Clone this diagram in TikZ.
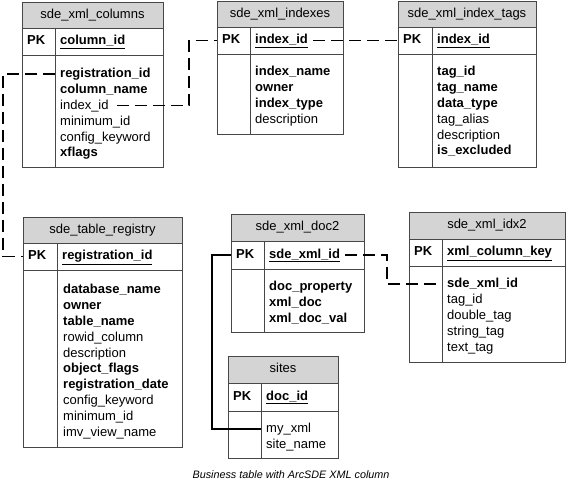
\documentclass[tikz,border=0pt]{standalone}
\usepackage{fontspec}
\setmainfont{Liberation Sans}
\usetikzlibrary{fit,calc}
\tikzset{
 tblhead/.style={draw=black!72, fill=black!17, line width=0.9pt, inner sep=0pt},
 tblrow/.style={draw=black!72, line width=0.9pt, inner sep=0pt},
 tblline/.style={draw=black!72, line width=0.9pt},
 txt/.style={inner sep=0pt, font=\fontsize{13}{15}\selectfont, text height=9.5pt, text depth=2.5pt},
 titletext/.style={txt},
 rowtext/.style={txt, anchor=west},
 fk/.style={draw=black, line width=1.2pt, dash pattern=on 12pt off 6pt},
 link/.style={draw=black, line width=1.1pt},
 captiontext/.style={inner sep=0pt, font=\fontsize{10.8}{12}\selectfont\itshape}
}
\newcommand\dbtable[9]{%
 \coordinate (#1-a) at (#3,#4);
 \coordinate (#1-b) at (#5,#7);
 \coordinate (#1-c) at (#3,#8);
 \coordinate (#1-d) at (#5,#9);
 \coordinate (#1-dt) at (#6,#7);
 \coordinate (#1-db) at (#6,#9);
 \node[tblhead, fit=(#1-a)(#1-b)] (#1-head) {};
 \node[tblrow, fit=(#1-c)(#1-b)] (#1-pk) {};
 \node[tblrow, fit=(#1-c)(#1-d)] (#1-body) {};
 \draw[tblline] (#1-dt) -- (#1-db);
 \node[titletext] (#1-title) at (#1-head.center) {#2};
 \node[rowtext] (#1-pklabel) at ({#3+5},{(#7+#8)/2}) {\bfseries PK};
}
\newcommand\dbpk[2]{\node[rowtext] (#1-pkf) at ($(#1-pk.west -| #1-dt)+(5,0)$) {\bfseries\underline{#2}};}
\newcommand\dbrows[4]{%
 \foreach \t [count=\i] in {#4} {\node[rowtext] (#1-r\i) at (#2,{#3+15.9*(\i-1)}) {\t};}
}
\begin{document}
\begin{tikzpicture}[x=1pt,y=-1pt]
\useasboundingbox (0,0) rectangle (566,484);

\dbtable{cols}{sde\_xml\_columns}{22}{2}{163}{55}{28}{55}{167}
\dbpk{cols}{column\_id}
\dbrows{cols}{60}{74}{\textbf{registration\_id},\textbf{column\_name},index\_id,minimum\_id,config\_keyword,\textbf{xflags}}

\dbtable{idx}{sde\_xml\_indexes}{217}{1.5}{343}{250}{27}{54}{134}
\dbpk{idx}{index\_id}
\dbrows{idx}{255}{72}{\textbf{index\_name},\textbf{owner},\textbf{index\_type},description}

\dbtable{tags}{sde\_xml\_index\_tags}{398}{1.5}{536}{432}{27}{54}{167}
\dbpk{tags}{index\_id}
\dbrows{tags}{437}{72}{\textbf{tag\_id},\textbf{tag\_name},\textbf{data\_type},tag\_alias,description,\textbf{is\_excluded}}

\dbtable{reg}{sde\_table\_registry}{23}{217}{182}{57}{243}{270}{447}
\dbpk{reg}{registration\_id}
\dbrows{reg}{63}{290}{\textbf{database\_name},\textbf{owner},\textbf{table\_name},rowid\_column,description,\textbf{object\_flags},\textbf{registration\_date},config\_keyword,minimum\_id,imv\_view\_name}

\dbtable{doc}{sde\_xml\_doc2}{231}{214}{364}{264}{241}{269}{332}
\dbpk{doc}{sde\_xml\_id}
\dbrows{doc}{269}{287}{\textbf{doc\_property},\textbf{xml\_doc},\textbf{xml\_doc\_val}}

\dbtable{idxb}{sde\_xml\_idx2}{409}{212}{565}{442}{239}{266}{362}
\dbpk{idxb}{xml\_column\_key}
\dbrows{idxb}{447}{284}{\textbf{sde\_xml\_id},tag\_id,double\_tag,string\_tag,text\_tag}

\dbtable{sites}{sites}{228}{356}{338}{261}{383}{411}{458}
\dbpk{sites}{doc\_id}
\dbrows{sites}{266}{429}{my\_xml,site\_name}

\coordinate (b1) at (3,74);
\draw[fk] (cols-r1.west -| cols-dt) -- (cols-r1.west -| b1) -- (reg-pk.west -| b1) -- (reg-pk.west);

\coordinate (b2) at (189,40);
\draw[fk] ($(cols-r3.east)+(8,0)$) -- (cols-r3.east -| b2) -- (idx-pk.west -| b2) -- (idx-pk.west);

\draw[fk] ($(idx-pkf.east)+(5,0)$) -- (tags-pk.west);

\coordinate (b3) at (387,255);
\draw[fk] ($(doc-pkf.east)+(5,0)$) -- (doc-pkf.east -| b3) -- (idxb-r1.west -| b3) -- (idxb-r1.west -| idxb-dt);

\coordinate (b4) at (212,255);
\draw[link] (doc-pk.west) -- (doc-pk.west -| b4) -- (sites-r1.west -| b4) -- (sites-r1.west -| sites-dt);

\node[captiontext] (cap) at (291,475) {Business table with ArcSDE XML column};
\end{tikzpicture}
\end{document}
